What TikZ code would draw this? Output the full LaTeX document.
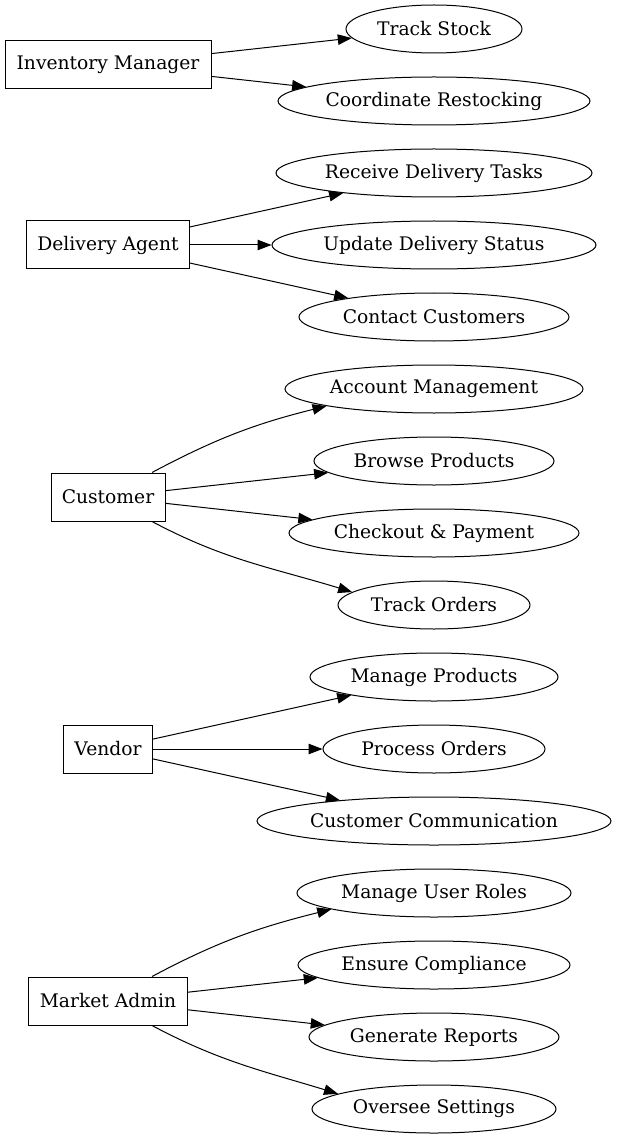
\documentclass[tikz,border=0pt]{standalone}
\usepackage{fontspec}
\setmainfont{DejaVu Serif}
\usepackage{tikz}
\usetikzlibrary{arrows.meta,shapes.geometric}

\begin{document}
\begin{tikzpicture}[x=1pt,y=1pt,
    actor/.style={draw, rectangle, line width=1pt, minimum height=48pt,
        inner sep=0pt, font=\fontsize{18.7pt}{22pt}\selectfont},
    usecase/.style={draw, ellipse, line width=1pt, minimum height=48pt,
        inner sep=0pt, font=\fontsize{18.7pt}{22pt}\selectfont},
    edge/.style={line width=1pt, -{Triangle[length=14pt,width=10.5pt]}}]
    \useasboundingbox (0,0) rectangle (616,-1139);

    % actors
    \node[actor, minimum width=206pt] (inv) at (108,-65) {Inventory Manager};
    \node[actor, minimum width=163pt] (da) at (108,-245) {Delivery Agent};
    \node[actor, minimum width=114pt] (cust) at (108,-497) {Customer};
    \node[actor, minimum width=89pt] (ven) at (108,-749) {Vendor};
    \node[actor, minimum width=159pt] (ma) at (108,-1001) {Market Admin};

    % use cases
    \foreach \name/\txt/\rx/\y in {
        ts/{Track Stock}/88/29, cr/{Coordinate Restocking}/156/101,
        rdt/{Receive Delivery Tasks}/158/173, uds/{Update Delivery Status}/162/245,
        cc/{Contact Customers}/135/317, am/{Account Management}/149/389,
        bp/{Browse Products}/120/461, cp/{Checkout \& Payment}/145/533,
        trk/{Track Orders}/96/605, mp/{Manage Products}/124/677,
        po/{Process Orders}/111/749, ccom/{Customer Communication}/177/821,
        mur/{Manage User Roles}/137/893, ec/{Ensure Compliance}/136/965,
        gr/{Generate Reports}/125/1037, os/{Oversee Settings}/122/1109}
        \node[usecase, minimum width=2*\rx] (\name) at (434,-\y)
            {\makebox[0pt]{\txt}};

    \draw[edge] (inv) -- (ts);
    \draw[edge] (inv) -- (cr);

    \draw[edge] (da) -- (rdt);
    \draw[edge] (da) -- (uds);
    \draw[edge] (da) -- (cc);

    \draw[edge] ([xshift=44pt]cust.north) to[out=28,in=194] (am.189);
    \draw[edge] (cust) -- (bp);
    \draw[edge] (cust) -- (cp);
    \draw[edge] ([xshift=44pt]cust.south) to[out=-28,in=163] (trk.171);

    \draw[edge] (ven) -- (mp);
    \draw[edge] (ven) -- (po);
    \draw[edge] (ven) -- (ccom);

    \draw[edge] ([xshift=44pt]ma.north) to[out=28,in=194] (mur.189);
    \draw[edge] (ma) -- (ec);
    \draw[edge] (ma) -- (gr);
    \draw[edge] ([xshift=44pt]ma.south) to[out=-28,in=163] (os.171);
\end{tikzpicture}
\end{document}
